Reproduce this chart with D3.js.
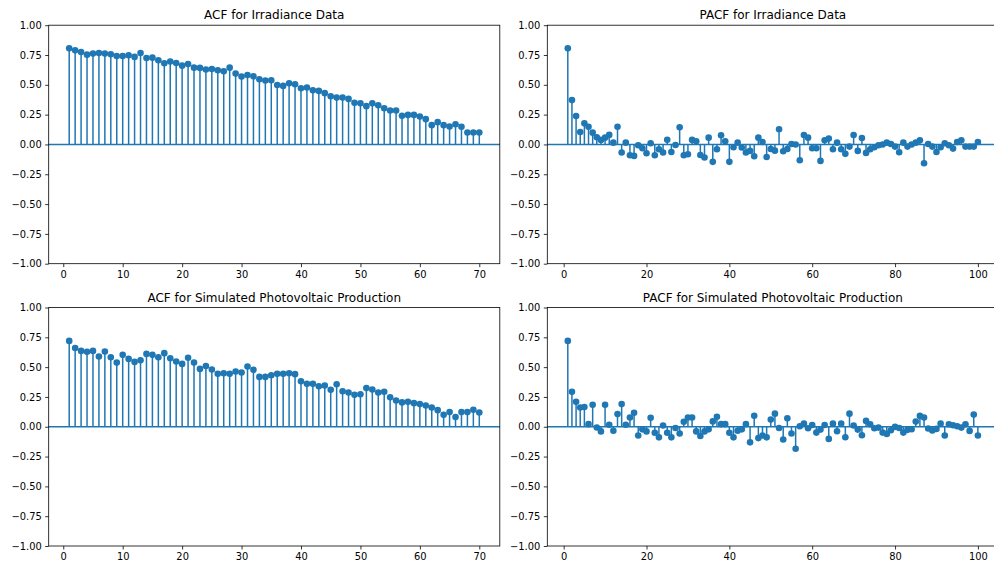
<!DOCTYPE html>
<html>
<head>
<meta charset="utf-8">
<script src="https://cdn.jsdelivr.net/npm/d3@7"></script>
<style>
  body { margin: 0; background: #fff; }
  svg { display: block; }
  text { font-family: "DejaVu Sans", sans-serif; }
</style>
</head>
<body>
<svg id="fig" width="994" height="565"></svg>
<script>
// Autocorrelation values, one entry per lag starting at lag 1
const acfIrradiance = [
  0.806, 0.789, 0.775, 0.753, 0.762, 0.767, 0.762, 0.756, 0.742, 0.742,
  0.748, 0.734, 0.767, 0.725, 0.728, 0.706, 0.681, 0.695, 0.683, 0.661,
  0.675, 0.644, 0.642, 0.628, 0.633, 0.622, 0.614, 0.644, 0.594, 0.569,
  0.583, 0.572, 0.547, 0.536, 0.538, 0.499, 0.491, 0.513, 0.505, 0.471,
  0.477, 0.455, 0.449, 0.430, 0.404, 0.393, 0.393, 0.382, 0.349, 0.346,
  0.321, 0.346, 0.329, 0.304, 0.285, 0.285, 0.240, 0.248, 0.248, 0.234,
  0.212, 0.162, 0.187, 0.162, 0.151, 0.170, 0.148, 0.100, 0.100, 0.100
];

const pacfIrradiance = [
  0.806, 0.372, 0.238, 0.105, 0.177, 0.149, 0.099, 0.060, 0.038, 0.057,
  0.080, 0.015, 0.149, -0.068, 0.015, -0.091, -0.096, -0.007, -0.032, -0.074,
  0.010, -0.091, -0.040, -0.068, 0.040, -0.063, -0.004, 0.144, -0.091, -0.082,
  0.038, 0.027, -0.088, -0.110, 0.057, -0.146, -0.040, 0.077, 0.027, -0.146,
  -0.024, 0.015, -0.026, -0.068, -0.054, -0.099, 0.057, 0.021, -0.105, -0.038,
  -0.052, 0.127, -0.057, -0.038, 0.004, -0.001, -0.132, 0.079, 0.057, -0.032,
  -0.032, -0.138, 0.035, 0.049, -0.040, 0.015, -0.040, -0.079, -0.018, 0.079,
  -0.054, 0.054, -0.071, -0.040, -0.024, -0.007, -0.001, 0.015, 0.004, -0.018,
  -0.066, 0.015, -0.018, -0.001, 0.015, 0.035, -0.158, 0.004, -0.018, -0.063,
  -0.024, 0.010, -0.007, -0.035, 0.021, 0.035, -0.018, -0.018, -0.018, 0.021
];

const acfPV = [
  0.720, 0.661, 0.636, 0.628, 0.636, 0.589, 0.630, 0.583, 0.538, 0.603,
  0.569, 0.544, 0.558, 0.611, 0.603, 0.583, 0.617, 0.575, 0.547, 0.527,
  0.578, 0.538, 0.485, 0.510, 0.480, 0.444, 0.449, 0.444, 0.463, 0.455,
  0.505, 0.477, 0.418, 0.418, 0.432, 0.444, 0.444, 0.449, 0.441, 0.382,
  0.360, 0.360, 0.340, 0.346, 0.310, 0.357, 0.298, 0.287, 0.268, 0.273,
  0.324, 0.312, 0.287, 0.293, 0.248, 0.220, 0.204, 0.209, 0.198, 0.190,
  0.178, 0.162, 0.139, 0.100, 0.123, 0.081, 0.123, 0.123, 0.142, 0.120
];

const pacfPV = [
  0.720, 0.293, 0.209, 0.162, 0.165, 0.022, 0.184, -0.006, -0.039, 0.184,
  0.017, -0.033, 0.106, 0.190, 0.017, 0.078, 0.117, -0.073, -0.022, -0.039,
  0.075, -0.050, -0.089, 0.011, -0.050, -0.089, -0.011, -0.056, 0.042, 0.078,
  0.078, -0.039, -0.078, -0.039, -0.022, 0.045, 0.084, 0.022, 0.022, -0.050,
  -0.089, -0.033, -0.022, 0.022, -0.131, 0.092, -0.095, -0.073, -0.089, 0.060,
  0.110, -0.010, -0.107, 0.071, -0.057, -0.185, 0.004, 0.026, -0.013, 0.015,
  -0.049, -0.024, 0.015, -0.102, 0.026, -0.038, 0.026, -0.088, 0.110, 0.010,
  -0.024, -0.071, 0.049, 0.021, -0.013, -0.007, -0.049, -0.060, -0.029, -0.001,
  -0.010, -0.049, -0.026, -0.021, 0.043, 0.091, 0.077, -0.015, -0.032, -0.018,
  0.026, -0.074, 0.021, 0.013, 0.004, -0.007, 0.021, -0.035, 0.102, -0.074
];

const acfTicks = [0, 10, 20, 30, 40, 50, 60, 70];
const pacfTicks = [0, 20, 40, 60, 80, 100];
const yTicks = [-1, -0.75, -0.5, -0.25, 0, 0.25, 0.5, 0.75, 1];

const titles = [
  "ACF for Irradiance Data",
  "PACF for Irradiance Data",
  "ACF for Simulated Photovoltaic Production",
  "PACF for Simulated Photovoltaic Production"
];

const color = "#1f77b4";
const panelW = 451.1, panelH = 238.5;

const panels = [
  { title: titles[0], values: acfIrradiance, xTicks: acfTicks, left: 48.7, top: 25.2 },
  { title: titles[1], values: pacfIrradiance, xTicks: pacfTicks, left: 547.3, top: 25.2 },
  { title: titles[2], values: acfPV, xTicks: acfTicks, left: 48.7, top: 307.5 },
  { title: titles[3], values: pacfPV, xTicks: pacfTicks, left: 547.3, top: 307.5 }
];

const svg = d3.select("#fig");
svg.append("rect").attr("width", 994).attr("height", 565).attr("fill", "#fff");

panels.forEach(p => {
  const pts = p.values.map((v, i) => ({ lag: i + 1, v }));
  const [lo, hi] = d3.extent(pts, d => d.lag);
  const pad = (hi - lo) * 0.05;

  const x = d3.scaleLinear().domain([lo - pad, hi + pad]).range([0, panelW]);
  const y = d3.scaleLinear().domain([-1, 1]).range([panelH, 0]);

  const g = svg.append("g").attr("transform", `translate(${p.left},${p.top})`);

  // stems from zero to each correlation value
  g.append("g").selectAll("line").data(pts).join("line")
    .attr("x1", d => x(d.lag)).attr("x2", d => x(d.lag))
    .attr("y1", y(0)).attr("y2", d => y(d.v))
    .attr("stroke", color).attr("stroke-width", 1.5);

  // zero reference line across the axes
  g.append("line")
    .attr("x1", 0).attr("x2", panelW)
    .attr("y1", y(0)).attr("y2", y(0))
    .attr("stroke", color).attr("stroke-width", 1.5);

  // markers at each value
  g.append("g").selectAll("circle").data(pts).join("circle")
    .attr("cx", d => x(d.lag)).attr("cy", d => y(d.v))
    .attr("r", 3.3).attr("fill", color);

  // axes
  const yAxis = g.append("g")
    .call(d3.axisLeft(y).tickValues(yTicks).tickFormat(d3.format(".2f"))
      .tickSize(3.5).tickPadding(3.5));
  const xAxis = g.append("g").attr("transform", `translate(0,${panelH})`)
    .call(d3.axisBottom(x).tickValues(p.xTicks).tickFormat(d => String(d))
      .tickSize(3.5).tickPadding(3.5));

  [yAxis, xAxis].forEach(a => {
    a.select(".domain").remove();
    a.selectAll(".tick line").attr("stroke", "#000").attr("stroke-width", 0.8);
    a.selectAll(".tick text").attr("fill", "#000")
      .style("font-family", "'DejaVu Sans', sans-serif").style("font-size", "9.9px");
  });

  // frame of the plotting area
  g.append("rect")
    .attr("x", 0).attr("y", 0).attr("width", panelW).attr("height", panelH)
    .attr("fill", "none").attr("stroke", "#000").attr("stroke-width", 0.8);

  g.append("text")
    .attr("x", panelW / 2).attr("y", -6)
    .attr("text-anchor", "middle")
    .style("font-size", "12px").attr("fill", "#000")
    .text(p.title);
});
</script>
</body>
</html>
